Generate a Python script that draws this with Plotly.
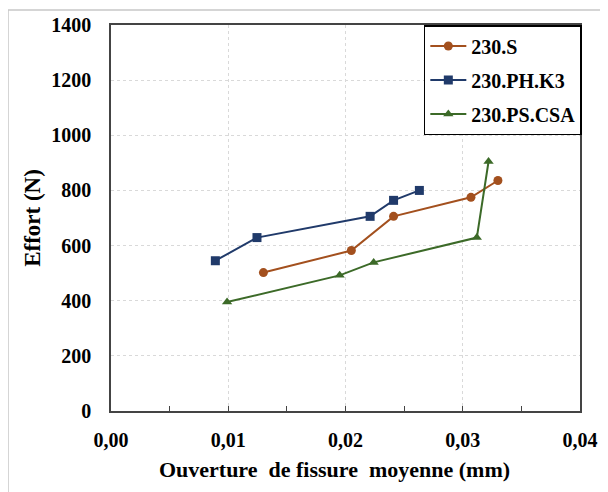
import plotly.graph_objects as go

s_x = [0.0130, 0.0205, 0.0241, 0.0307, 0.0330]
s_y = [502, 582, 706, 775, 836]
ph_x = [0.0089, 0.01245, 0.0221, 0.0241, 0.0263]
ph_y = [545, 629, 706, 764, 800]
ps_x = [0.0099, 0.0195, 0.0224, 0.0312, 0.0322]
ps_y = [395, 492, 539, 629, 905]

names = ["230.S", "230.PH.K3", "230.PS.CSA"]
colors = ["#A3501E", "#203A6A", "#3C6A28"]
symbols = ["circle", "square", "triangle-up"]

x_ticks = [0.0, 0.01, 0.02, 0.03, 0.04]
x_tick_labels = ["0,00", "0,01", "0,02", "0,03", "0,04"]
y_ticks = [0, 200, 400, 600, 800, 1000, 1200, 1400]
y_tick_labels = [str(v) for v in y_ticks]

fig = go.Figure()
for i, (xs, ys, n, c, sym) in enumerate(zip([s_x, ph_x, ps_x], [s_y, ph_y, ps_y], names, colors, symbols)):
    fig.add_trace(go.Scatter(x=xs, y=ys, name="<b>" + n + "</b>", mode="lines+markers",
                             legendgroup="g%d" % i,
                             line=dict(color=c, width=2),
                             marker=dict(color=c, symbol=sym, size=9)))

font_fam = "Liberation Serif"
fig.update_layout(
    width=608, height=492,
    margin=dict(l=103, r=36, t=17, b=89, autoexpand=False),
    paper_bgcolor="white", plot_bgcolor="white",
    font=dict(family=font_fam, size=18, color="black"),
    showlegend=True,
    legend=dict(x=0.667, y=1.0, xanchor="left", yanchor="top",
                bordercolor="black", borderwidth=1.5, bgcolor="white",
                font=dict(family=font_fam, size=20, color="black"),
                tracegroupgap=5, itemwidth=36),
    xaxis=dict(range=[0, 0.04], tickvals=x_ticks, ticktext=["<b>%s</b>" % t for t in x_tick_labels],
               automargin=False,
               showgrid=True, gridcolor="#D9D9D9", griddash="dot", gridwidth=1,
               showline=True, linecolor="#444444", linewidth=1.5, mirror=True,
               ticks="inside", ticklen=5, tickcolor="#444444",
               minor=dict(tickvals=[0.005, 0.015, 0.025, 0.035], ticks="inside", ticklen=5, tickcolor="#444444"),
               tickfont=dict(family=font_fam, size=20, color="black"),
               ticklabelstandoff=10,
               title=dict(text="<b>Ouverture  de fissure  moyenne (mm)</b>&nbsp;&nbsp;&nbsp;&nbsp;",
                          font=dict(family=font_fam, size=22, color="black"), standoff=12),
               zeroline=False),
    yaxis=dict(range=[0, 1400], tickvals=y_ticks, ticktext=["<b>%s</b>" % t for t in y_tick_labels],
               automargin=False,
               showgrid=True, gridcolor="#D9D9D9", griddash="dot", gridwidth=1,
               showline=True, linecolor="#444444", linewidth=1.5, mirror=True,
               ticks="", tickfont=dict(family=font_fam, size=20, color="black"),
               ticklabelstandoff=14,
               title=dict(text="<b>Effort (N)</b>",
                          font=dict(family=font_fam, size=23, color="black"), standoff=4),
               zeroline=False),
)

fig.add_shape(type="rect", xref="paper", yref="paper",
              x0=(0 - 103) / 469, x1=(620 - 103) / 469,
              y0=(403 - 520) / 386, y1=(403 - 2) / 386,
              line=dict(color="#C8C8C8", width=1.5), layer="below")

fig.write_html("out.html")
